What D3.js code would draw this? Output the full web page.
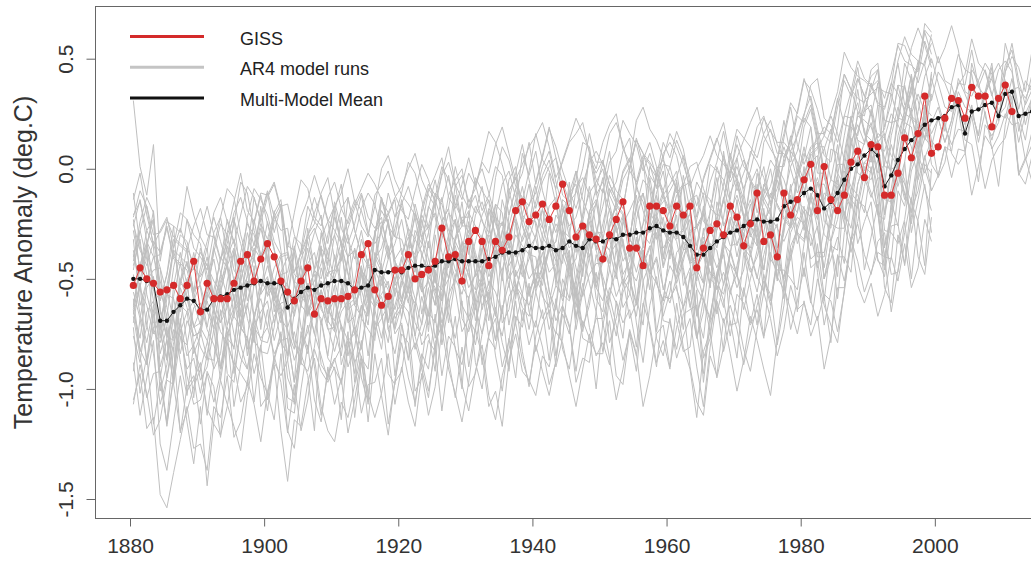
<!DOCTYPE html>
<html>
<head>
<meta charset="utf-8">
<script src="https://cdnjs.cloudflare.com/ajax/libs/d3/7.8.5/d3.min.js"></script>
<style>
body { margin: 0; background: #fff; }
text { font-family: "Liberation Sans", Arial, sans-serif; fill: #333; }
</style>
</head>
<body>
<svg class="canvas"></svg>
<script>
/*
	GISS vs AR4 model runs, temperature anomaly 1880-2014
*/

var dwidth = 1031;
var dheight = 561;

//Data - annual values, first year 1880
var firstYear = 1880;

//GISS annual anomaly 1880-2011
var gissTemp = [
-0.53,-0.45,-0.50,-0.52,-0.56,-0.55,-0.53,-0.59,-0.53,-0.42,
-0.65,-0.52,-0.59,-0.59,-0.59,-0.52,-0.42,-0.39,-0.51,-0.41,
-0.34,-0.40,-0.51,-0.56,-0.60,-0.51,-0.45,-0.66,-0.59,-0.60,
-0.59,-0.59,-0.58,-0.55,-0.39,-0.34,-0.55,-0.62,-0.58,-0.46,
-0.46,-0.39,-0.50,-0.48,-0.46,-0.42,-0.27,-0.40,-0.39,-0.51,
-0.33,-0.28,-0.33,-0.44,-0.33,-0.37,-0.31,-0.19,-0.15,-0.24,
-0.21,-0.16,-0.23,-0.17,-0.07,-0.19,-0.31,-0.26,-0.30,-0.32,
-0.41,-0.30,-0.23,-0.15,-0.36,-0.36,-0.44,-0.17,-0.17,-0.19,
-0.26,-0.17,-0.21,-0.17,-0.45,-0.36,-0.28,-0.25,-0.30,-0.17,
-0.22,-0.35,-0.25,-0.11,-0.33,-0.30,-0.40,-0.11,-0.21,-0.14,
-0.05,0.02,-0.19,0.01,-0.14,-0.19,-0.12,0.03,0.08,-0.04,
0.11,0.10,-0.12,-0.12,-0.02,0.14,0.05,0.16,0.33,0.07,
0.10,0.23,0.32,0.31,0.23,0.37,0.33,0.33,0.19,0.32,
0.38,0.26];

//Multi-model mean 1880-2014
var modelMean = [
-0.50,-0.50,-0.51,-0.52,-0.69,-0.69,-0.65,-0.62,-0.59,-0.60,
-0.64,-0.64,-0.59,-0.58,-0.57,-0.55,-0.54,-0.53,-0.52,-0.51,
-0.52,-0.52,-0.52,-0.63,-0.59,-0.56,-0.54,-0.55,-0.53,-0.52,
-0.51,-0.51,-0.52,-0.55,-0.54,-0.53,-0.46,-0.47,-0.47,-0.46,
-0.47,-0.45,-0.44,-0.44,-0.45,-0.44,-0.42,-0.42,-0.41,-0.42,
-0.42,-0.42,-0.42,-0.41,-0.40,-0.38,-0.38,-0.38,-0.37,-0.35,
-0.36,-0.36,-0.35,-0.37,-0.36,-0.33,-0.35,-0.36,-0.32,-0.33,
-0.33,-0.31,-0.32,-0.30,-0.30,-0.29,-0.29,-0.27,-0.26,-0.28,
-0.29,-0.29,-0.31,-0.35,-0.39,-0.39,-0.36,-0.33,-0.31,-0.29,
-0.28,-0.26,-0.24,-0.23,-0.24,-0.24,-0.23,-0.17,-0.15,-0.14,
-0.11,-0.09,-0.12,-0.18,-0.15,-0.11,-0.05,0.00,0.02,0.06,
0.09,0.06,-0.08,-0.03,0.04,0.09,0.13,0.16,0.20,0.22,
0.23,0.24,0.28,0.29,0.16,0.26,0.27,0.29,0.30,0.24,
0.34,0.35,0.24,0.25,0.26];

//AR4 model runs: offset of each run from the mean, then yearly departures
//coded one letter per year ("M" = 0, one letter = 0.06), one string per decade
var devStep = 0.06;
var runBias = [-0.55,-0.50,-0.45,-0.35,-0.20,-0.20,-0.15,-0.10,-0.05,0.00,0.00,
	0.05,0.10,0.15,0.20,0.25,0.30,0.35,0.40,0.45,-0.20,0.10,
	-0.40,-0.30,-0.20,-0.10,0.00,0.05,0.15,0.30,-0.15,0.00,0.10];
var runDev = [
["MOKLIHJLNK","LJNMPKLOMJ","NPKIMLOQMK","JMLOQNKMPL","OLJNKMQNLJ","MQOKLINPML","KNMPOLJMOK","PMJLOMIKNO","LOQMKJNLPM","JLOMKIMPNL","NKMJLONQMK","LJNPMOKLOM"],
["OKNQLJMPLI","NHLOMKIMPN","MKPLJNQMKO","LNJMPKOLIM","PMKNLOJNQL","JMOKILNPMK","NLJMQOKMLP","MOKJNLPNKM","KPMLINOKMQ","OLJMPNKLOM","MKONLJMPNK","LNPKMOQLJN"],
["KNLIMPOKLN","PMKJLONMQK","LOMKNJLPNM","NJPOKMLNIL","MPKLONQMJN","KLOQMJNKPM","OMJLPNKOML","LPNKMJOQLK","NKMOLIMPNO","MJLNPOKMQL","PLKNMJLOPM","KNQMLOJNPL"],
["PMJLOKNQMK","LNKMPJMOLN","JMOLKNPMIL","MKNPLJOMQN","OLMKIMNPLK","NPKMOLJNMP","KMNJLQOLKM","MONKPLIMOL","LJMNOKLPNK","NMKLJPONML","OQMJLNMKPO","MKLONJMQNL"],
["LJNOKMPLIM","OQNJMLPKNO","MKLNJPOMKI","LNOMKJNPLM","NMJLPNKOQL","KMOPLJMNKM","NPMKLOJMOQ","MKILMPNOLK","ONKMJLPMLN","LMPOKNLJNO","NKLMOPMJLN","PMKJNLOQMK","LNMPOJLNMK","NPLMK"],
["NPMKJLNOLM","KLNOPMKJML","MPNKILMOPN","OMLJNMKPOL","PNKIMLOQNK","LNOMJLNKMP","MKLOQNMJLN","JLNPMKOMLK","OQNLJMKNOL","MKNPLJMOPM","NPOKLMJNQO","MLJNPMKLNK"],
["MKOPLNJMLO","PNLJMKOQMK","KMNPLKONMJ","NLJMQOKLMO","LOMKNJLPNM","OKMLPNJMLK","MNQOLKMPNL","NPMJKONLMI","KNOPMLJMON","LOMKNPMJNQ","MLJNPOMKNO","OMKLNQOLMN","KLNPOMJNMO","PNKLN"],
["OLJMNQNKML","MPNLKIMOLN","PNLMJKOMPN","KIMNPOLMNK","LMOKNMJLPO","QOKMLJNPON","NKJLPOMKLM","MPQNLKMJOL","ONLJMPNKLJ","LNPMKONLMQ","OMJKNPLMOM","KMOQNLJMPO"],
["PMLJNKOQNL","KJMOPMLIKN","MOPLJMNOLK","JLNQOMKLJM","OLKMINPOML","KMLOQNPLMJ","LKNMOLJMPQ","NPMJKMLONK","MJLOPNLKMO","NLJKMPOMLN","KMLONPOLKM","LOPNMJLMOQ","OMKLNQPMKN","LNPMO"],
["LJMOPNKMLI","KNMPOKJMOQ","OMKILNPMLK","JLOPNKMLNO","QNMKLJMOPM","KLOMQPLMKL","NPMKIKNOQN","MLJNMOQPLM","LJMOLNKJMP","QOLKMNPMKL","NPQMJKMOPN","OMKLNPRNLK","MKLOPMKNOQ","NLKMN"],
["NPLJMONKLM","OQMKLNJIMO","LMOQNLKMJL","OMJKNLPMLJ","LNQOMKJMNL","PMLJNMOQOM","JKMONLIMOM","QONKLJLMNP","MJLNOPMKLN","KMLOMNJKNO","POMKJLOQNM","LNMPQONKLO"],
["JMPQMKLNOM","NLJMOPNKMI","LKMPNMJLON","QOMKLJMNPM","NKIMLOQNLM","KJNPOLMOQN","OMLJNPMKLI","KMOQRNLKMJ","MOPLKJNMOQ","PMKLONPMKL","KJMNLOQPNM","OLJMOQNMKL","MKNPQOLMNM","PNKMO"],
["MOQNLJKMNL","PNKLIJNPOM","NPQMKLJMOP","MKJLOMNQOL","IKNMPOLJMN","POQNKMLKNP","MIKLONQOMK","JLNPQOMKLN","OPMJKMNQOM","NLKJMNPLNO","QPMNKJMOPM","LJMOQNMLKO"],
["QMKJLNPONK","JLNPOLKMOQ","OMKIJMNLKM","NPQOMLKNOM","MKJNLPOQNL","JLNOMKLMJL","NPQOLJKMNO","PMKLJNPQOM","LJKNOMLJLO","QONKMLNOMK","LMNPQOLKMN","OQNLJMNPOL","NMKLOPNMKN","MLKML"],
["KNPOLJMONL","NMKJLOMKLN","MOPNKJLNOK","OQMLNKJMNO","KLJNPONLKM","MPONKLJMQO","QNLKMJNOMI","KMNPQMLJNO","NMKLJMPONL","JLONMKLMNP","OPNLJKMOQM","MKNPQMLNPN"],
["MKJLNPMLKI","LNOMKLJNPO","NLKMJLONMK","IKMOPNLMJL","NOMKLNPOML","KMLJLNOMKL","MOPNLJKMON","OLKMNPNLJK","LMONKLJMOM","PNLKMJLNPM","KLMONPMLKM","MNPOLKMNPO","MNOMLJKLKJ","KLKJK"],
["NPMKLJMONL","LKMNPOLJKM","OMLNJKLMOP","MKJLNOMKIL","NPOMKLJMNO","LMKJNPOMLK","MOQOMKLNPN","NLKJMONMLK","MONLJKMNPM","KLMOPNLKMJ","MNLKMOPNML","NOMLKMOPNL"],
["LMKJNOLMKJ","MOLJKMNLJL","NKMOLJKMNL","KJLNMKLOPN","MLKJMNOLKM","OMKLNMJLMO","LNPOMKJLMN","MOPNLKMLJM","NMKLJMNOMK","LJKMONMLKL","MOPNMKLMOM","LKMNPOMKLM"],
["KMLJMNLKJL","NLKIKMOLKM","MNLKJLMOMK","LMOMKJLMNL","KJLNMKMOLK","MLNPOMKLJL","OMLKMNPOMK","JLMONMKLJM","LNMKJLMNOL","NMLKMNLJKM","OMKLMNPNML","KLMNOMLKNM"],
["SNLPJMLKNL","KJLMKIKMLJ","LMKJLNMKJL","MKJLMNLKJK","LMNLKJLMKL","JKMLNOMKLM","NOMKLMNOLK","MNOLKNOMLK","MLKJLMNLKJ","KLMNLKJKML","NMLKJLMKLJ","KLJKMNLKJL"],
["NKJMPLONKL","JMOKNPLJMN","OLNQMKJLPM","KMJLONPMKO","NPLKMJNOQM","LJMNPKLOMJ","MOKJNLQPMK","PNLMJKOMNL","KMPOLJNMKO","MJLNQPMKLN","OLNKMJPNMO","NPMLJKNOQM","LNKMOPMJLN","MOLKM"],
["LOMJKNPMLO","MJLNQOKLNM","PNKMJLOPNK","LMOKIMNQOL","KMPNLJMONL","ONMJKLPQNM","LJKNMOPMKL","NPONKJLMOQ","MKLJNPOMKL","OMKNLJMOPN","KNOPMLJMON","MLNOQPMKLN","PNMKLOMNLK","MNOMP"],
["PKNIOLQJMN","KOMIPNKLQM","JNPLKOMIQN","MLPJNKOQLK","ONIMLPKNMJ","QLJNOKMPLI","MOKPLJNQMK","LJOMNKPLIN","PMKLQJNOKM","JOLNKMQNJL","NKPMIOLNQK","MPLJNKOMIP"],
["KOLPNJMQKL","NJMQLKONIM","PLKNJOMQLK","LMQKNIOMPJ","NKOLMJQNLO","JMPLKNIOQM","LPNJMKOLMQ","OJLNQMKPJM","MNKPLIMOQK","KPMJNLOKNP","QLMKOJNPLM","NJLPMQKMON"],
["MPJNLOKQMI","ONKLPJMOLK","KMQNJLOMPN","PJLMOKNQLJ","MOKNLPJMOQ","LKPMJOQNLK","NMJLQOKMPL","KOPMLJNMQO","PLKNOMJLPN","MQNLKOPJMN","JNPKMLQONL","OLKMPNJMQN"],
["LNQKMOJPNL","MKJOQNLMPK","ONMKPLJNOM","KQNLJMPOKL","NLOMKQNJMP","PKMJNOLQMK","MOQLKNJMPN","LJNPMOKLQO","NPKMJLONKM","QMLNKOJMPL","KNPOMLKQNM","OMJLNPQMKL"],
["PKMNQLJOMK","LOPMJKNQOL","MJLOQNKMPJ","NPKLMOJNQM","KMONLJPQML","OLNKMQOJLN","JNPQMKLOMP","MKOLJNPMQK","NQLMKOJPNL","LMPKNJQOML","OKNMQPLJMN","PNLKMOQNLM"],
["NLOQMKJNPL","KMPNLOJMQN","OJLMPKNOLM","MQNKJLOPNK","LNMPOKJMQO","PKLNMJOQNL","MONLKPMJNO","QLJMNOKPML","NPMKLJOQMN","KLOPNMJLPO","MNQOKLMPNK","LPMJNOQKMN"],
["OKMPLNQJLM","MNJLOPKMQO","LPMKNJOLMK","NLQOMJKPNM","PMKLOQNJLO","KNOMJLPQMK","MLPNKOJMQN","OQMLJNPKMO","LNKMPOJLQM","PMJNLKOQNL","NKMOPLJNQO","MPLKNQOMJN"],
["LNKJMOLKNM","MJLNKMPOLJ","KMNLJKMOMK","NLKMOLJKNL","MKJLNMKLOM","LNOMKJLNPM","KMNOLKMPOL","NLKJMONLKM","MKLNOMKJLN","LMKJNOMLKM","NOMLKMPNLK","MLNOMKLMOM"],
["NJLPMOKNQL","KMOJLNPMKO","PNKLMJOQNL","LOMJKNPOMK","MKPNLOJMNQ","OLJMKPNLOM","NPLKOMJNPL","KMQOLJMNOK","MLNPKMOJLN","PNLJMOKNPM","LOMKNPMJNO","NKMPOLJMQN","MOLKNPMOLN","NMOLM"],
["KNPMLJOQNK","MOLKNPJMOL","PLJNMOKLQN","MKOPLJNMOK","NPMKOLJNPM","LJNOQMKLNO","OMKLPNJMOQ","MLNJKOPMLN","KOQNLMJNPM","NLKMOQNLKM","MOPLKNJMQO","LNQMKLOPNL","MKLNOMKNPM","LNMKN"],
["OLNKJMPONL","NPKMOLJNMQ","MJLNPOKLMO","QNLKMJNPOL","KMOLNPJMQN","NLJOMKPNLM","PMKLNOQMJL","LONMKJLPON","MKPNLOJMNQ","OLMKNPOLJM","NPKLMOJNQM","KMOPNLJMOP","NLKMOPMLNK","MONLM"]
];

//Axis ticks and legend
var xTicks = [1880, 1900, 1920, 1940, 1960, 1980, 2000];
var yTicks = [-1.5, -1.0, -0.5, 0.0, 0.5];
var legendNames = ["GISS", "AR4 model runs", "Multi-Model Mean"];
var legendCols = ["#d42a2a", "#c4c4c4", "#111111"];

//Grab canvas
var canv = d3.select(".canvas");
canv.attr("width", dwidth).attr("height", dheight);
canv.append("rect").attr("width", dwidth).attr("height", dheight).style("fill", "#fff");

//Plot box
var pleft = 95.5, ptop = 6.5, pbottom = 518.5, pright = 1060;

//Scales
var sx = d3.scaleLinear().domain([1880, 1980]).range([130, 800.7]);
var sy = d3.scaleLinear().domain([-1.5, 0.5]).range([499, 58.7]);

canv.append("clipPath").attr("id", "plotclip")
	.append("rect").attr("x", pleft).attr("y", ptop)
	.attr("width", pright - pleft).attr("height", pbottom - ptop);

var plot = canv.append("g").attr("clip-path", "url(#plotclip)");

//annual means are plotted at mid-year
var line = d3.line()
	.x(function(d) { return sx(d.year + 0.5); })
	.y(function(d) { return sy(d.value); });

/*

Model runs

*/
var runs = runDev.map(function(decades, i) {
	var s = decades.join("");
	var pts = [];
	for (var k = 0; k < s.length && k < modelMean.length; k++) {
		pts.push({year: firstYear + k, value: modelMean[k] + runBias[i] + (s.charCodeAt(k) - 77) * devStep});
	}
	return pts;
});

plot.selectAll("path.run")
	.data(runs)
	.enter()
	.append("path")
	.attr("class", "run")
	.attr("d", line)
	.style("fill", "none")
	.style("stroke", "#bfbfbf")
	.style("stroke-width", 1);

/*

Multi-model mean and GISS

*/
var meanPts = modelMean.map(function(v, i) { return {year: firstYear + i, value: v}; });
var gissPts = gissTemp.map(function(v, i) { return {year: firstYear + i, value: v}; });

plot.append("path")
	.datum(meanPts)
	.attr("d", line)
	.style("fill", "none")
	.style("stroke", "#222")
	.style("stroke-width", 1);
plot.selectAll("circle.mean")
	.data(meanPts)
	.enter()
	.append("circle")
	.attr("class", "mean")
	.attr("cx", function(d) { return sx(d.year + 0.5); })
	.attr("cy", function(d) { return sy(d.value); })
	.attr("r", 2.2)
	.style("fill", "#111");

plot.append("path")
	.datum(gissPts)
	.attr("d", line)
	.style("fill", "none")
	.style("stroke", "#e04040")
	.style("stroke-width", 1);
plot.selectAll("circle.giss")
	.data(gissPts)
	.enter()
	.append("circle")
	.attr("class", "giss")
	.attr("cx", function(d) { return sx(d.year + 0.5); })
	.attr("cy", function(d) { return sy(d.value); })
	.attr("r", 3.6)
	.style("fill", "#d42a2a");

/*

Box, axes and labels

*/
canv.append("rect")
	.attr("x", pleft).attr("y", ptop)
	.attr("width", pright - pleft).attr("height", pbottom - ptop)
	.style("fill", "none")
	.style("stroke", "#666")
	.style("stroke-width", 1);

var xax = canv.append("g")
	.attr("transform", "translate(0," + pbottom + ")")
	.call(d3.axisBottom(sx).tickValues(xTicks).tickSize(8).tickFormat(d3.format("d")));
xax.select(".domain").remove();
xax.selectAll("line").style("stroke", "#666");
xax.selectAll("text")
	.attr("y", 34.5).attr("dy", 0)
	.attr("font-size", "21px")
	.style("fill", "#333");

var yax = canv.append("g")
	.attr("transform", "translate(" + pleft + ",0)")
	.call(d3.axisLeft(sy).tickValues(yTicks).tickSize(9).tickFormat(function(d) { return d.toFixed(1); }));
yax.select(".domain").remove();
yax.selectAll("line").style("stroke", "#666");
yax.selectAll("text")
	.attr("x", 0).attr("dy", 0)
	.attr("transform", "translate(-23,0) rotate(-90)")
	.style("text-anchor", "middle")
	.attr("font-size", "21px")
	.style("fill", "#333");

canv.append("text")
	.attr("transform", "translate(32," + ((ptop + pbottom) / 2) + ") rotate(-90)")
	.style("text-anchor", "middle")
	.attr("font-size", "25px")
	.text("Temperature Anomaly (deg.C)");

//Legend
var leg = canv.selectAll("g.legend")
	.data(legendNames)
	.enter()
	.append("g")
	.attr("class", "legend")
	.attr("transform", function(d, i) { return "translate(130," + (36.5 + i * 30.7) + ")"; });
leg.append("line")
	.attr("x1", 0).attr("x2", 74)
	.style("stroke", function(d, i) { return legendCols[i]; })
	.style("stroke-width", 3);
leg.append("text")
	.attr("x", 110).attr("y", 8)
	.attr("font-size", "18px")
	.style("fill", "#222")
	.text(function(d) { return d; });
</script>
</body>
</html>
